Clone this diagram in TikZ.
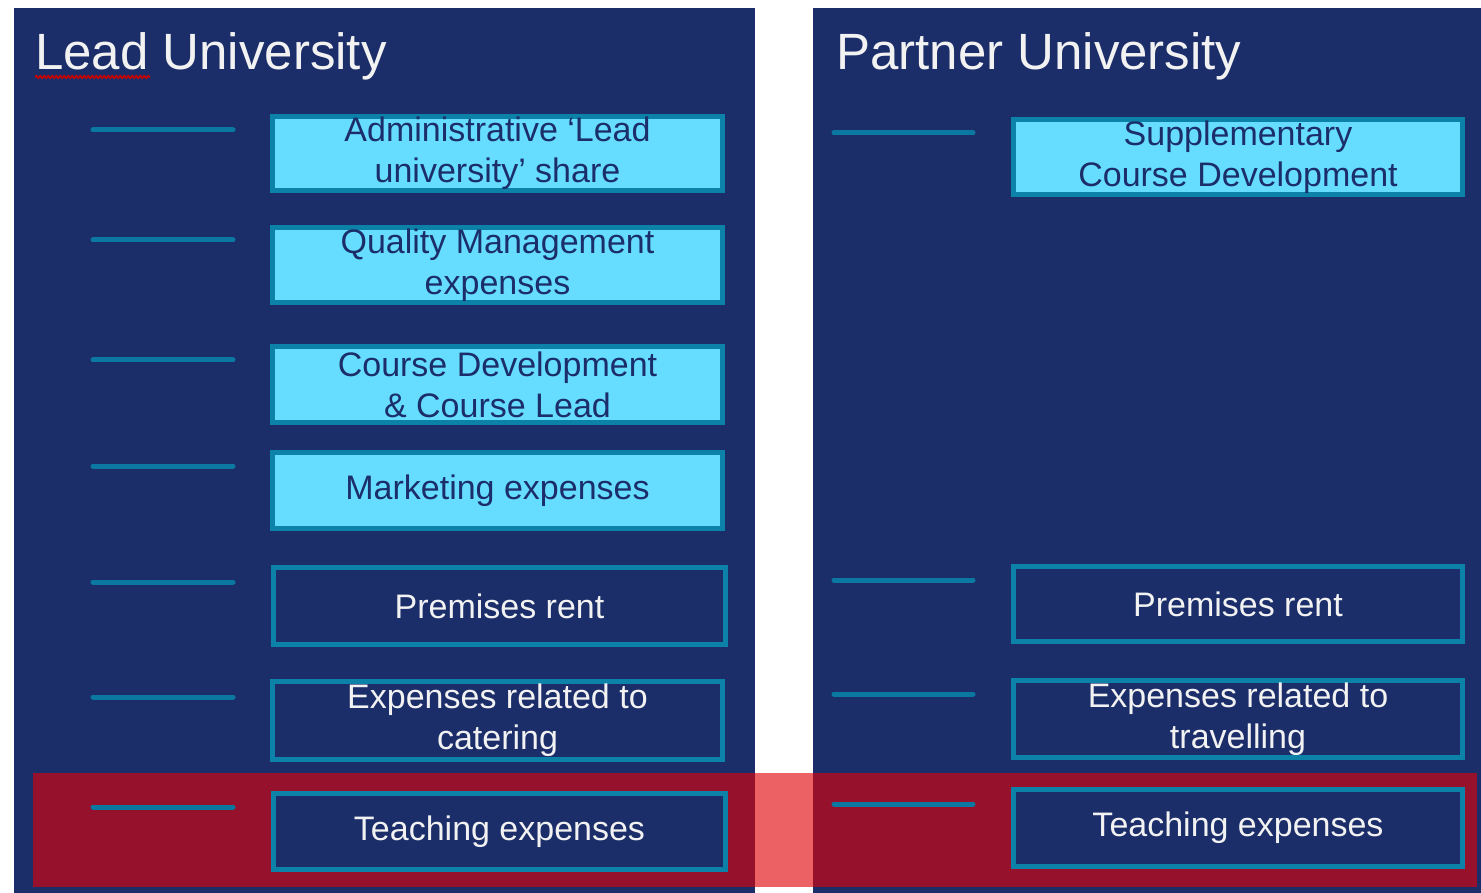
\documentclass[tikz,border=0pt]{standalone}
\usepackage{fontspec}
\setmainfont{Liberation Sans}
\usetikzlibrary{decorations.pathmorphing}
\definecolor{navy}{HTML}{1B2E6A}
\definecolor{cyanf}{HTML}{66DDFF}
\definecolor{bord}{HTML}{0C82A8}
\definecolor{stubc}{HTML}{0A78A0}
\definecolor{bandred}{HTML}{E00006}
\definecolor{txtw}{HTML}{F2F2F2}
\tikzset{
  box/.style={rectangle, draw=bord, line width=5pt, font=\fontsize{34}{41}\selectfont, align=center, inner sep=0pt},
  cbox/.style={box, fill=cyanf, text=navy},
  dbox/.style={box, fill=navy, text=txtw},
  stub/.style={draw=stubc, line width=5pt, line cap=round},
  title/.style={anchor=base west, inner sep=0pt, text=txtw, font=\fontsize{51}{60}\selectfont},
  panel/.style={fill=navy, draw=none}
}
\begin{document}
\begin{tikzpicture}[x=1pt,y=-1pt]
\useasboundingbox (0,0) rectangle (1481,893);
\fill[white] (0,0) rectangle (1481,893);
% panels
\fill[panel] (14,8) rectangle (755,893);
\fill[panel] (813,8) rectangle (1481,893);
% red band
\fill[bandred, opacity=0.62] (33,773) rectangle (1477,887);
% titles
\node[title] (tl) at (35,70) {Lead University};
\node[title] (tr) at (836,70) {Partner University};
\draw[red!80!black, line width=1.6pt, decorate, decoration={snake, amplitude=1.2pt, segment length=4pt}] (tl.base west) ++(0,7) -- ++(115,0);
% left boxes
\node[cbox, minimum width=450pt, minimum height=74pt] (l1) at (497.5,153.5) {Administrative ‘Lead\\university’ share};
\node[cbox, minimum width=450pt, minimum height=75pt] (l2) at (497.5,265) {Quality Management\\expenses};
\node[cbox, minimum width=450pt, minimum height=76pt] (l3) at (497.5,384.5) {Course Development\\\& Course Lead};
\node[cbox, minimum width=450pt, minimum height=76pt] (l4) at (497.5,490.5) {Marketing expenses};
\node[dbox, minimum width=452pt, minimum height=77pt] (l5) at (499.5,606) {Premises rent};
\node[dbox, minimum width=450pt, minimum height=78pt] (l6) at (497.5,720.5) {Expenses related to\\catering};
\node[dbox, minimum width=452pt, minimum height=76pt] (l7) at (499.5,831.5) {Teaching expenses};
% right boxes
\node[cbox, minimum width=449pt, minimum height=75pt] (r1) at (1238,157) {Supplementary\\Course Development};
\node[dbox, minimum width=449pt, minimum height=75pt] (r2) at (1238,604) {Premises rent};
\node[dbox, minimum width=449pt, minimum height=77pt] (r3) at (1238,719) {Expenses related to\\travelling};
\node[dbox, minimum width=449pt, minimum height=77pt] (r4) at (1238,828) {Teaching expenses};
% stubs
\foreach \n/\yy in {1/130,2/240,3/360,4/466,5/582,6/697,7/807}{
  \coordinate (sl\n a) at (93,\yy);
  \coordinate (sl\n b) at (233,\yy);
  \draw[stub] (sl\n a) -- (sl\n b);
}
\foreach \n/\yy in {1/133,2/580,3/694,4/804}{
  \coordinate (sr\n a) at (834,\yy);
  \coordinate (sr\n b) at (973,\yy);
  \draw[stub] (sr\n a) -- (sr\n b);
}
\end{tikzpicture}
\end{document}
